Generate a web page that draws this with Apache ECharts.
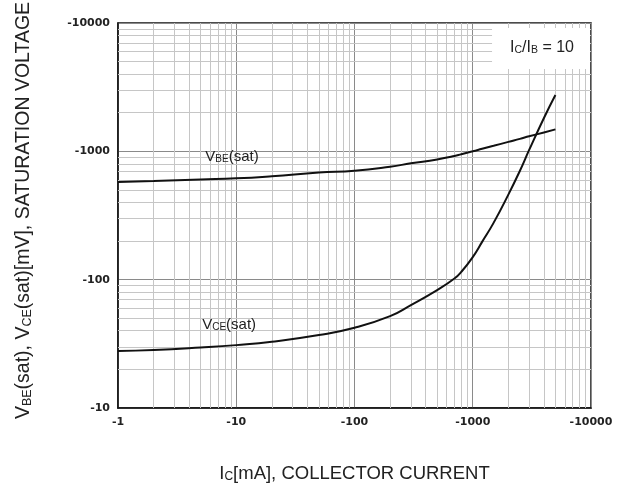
<!DOCTYPE html>
<html>
<head>
<meta charset="utf-8">
<script src="https://cdn.jsdelivr.net/npm/echarts@6/dist/echarts.min.js"></script>
<style>
html,body{margin:0;padding:0;background:#fff;}
#chart{width:625px;height:488px;}
</style>
</head>
<body>
<div id="chart"></div>
<script>
// Collector current (mA, magnitude)
const collectorCurrent = [1, 2, 5, 10, 20, 50, 100, 200, 300, 500, 700, 800, 1000, 1200, 1500, 2000, 2500, 3000, 4000, 5000];
// V_BE(sat) in mV (magnitude)
const vbeSat = [577, 588, 604, 616, 640, 684, 706, 759, 806, 865, 919, 949, 1000, 1046, 1104, 1185, 1250, 1309, 1404, 1483];
// V_CE(sat) in mV (magnitude)
const vceSat = [27.8, 28.3, 29.6, 30.9, 32.8, 37, 42.2, 52, 63.4, 83, 102, 115, 150, 197, 277, 460, 703, 1025, 1820, 2750];

const xTickLabels = ['-1', '-10', '-100', '-1000', '-10000'];
const yTickLabels = ['-1', '-10', '-100', '-1000', '-10000'];

// minor grid positions (2..9 per decade)
const minorMultipliers = [2, 3, 4, 5, 6, 7, 8, 9];
const xDecades = [1, 10, 100, 1000];
const yDecades = [10, 100, 1000];

const minorX = [];
xDecades.forEach(d => minorMultipliers.forEach(m => minorX.push(d * m)));
const minorY = [];
yDecades.forEach(d => minorMultipliers.forEach(m => minorY.push(d * m)));

const vbeLabelPos = [9.2, 936];
const vceLabelPos = [8.7, 46];

const chart = echarts.init(document.getElementById('chart'), null, {renderer: 'canvas'});

const sansFont = 'Liberation Sans, Arial, sans-serif';
const curveRich = {
  m: {fontFamily: sansFont, fontSize: 15, fontWeight: 'normal', color: '#222', lineHeight: 18, verticalAlign: 'bottom'},
  s: {fontFamily: sansFont, fontSize: 10, fontWeight: 'normal', color: '#222', lineHeight: 11, verticalAlign: 'bottom'}
};

function toPairs(xs, ys) { return xs.map((x, i) => [x, ys[i]]); }

const option = {
  animation: false,
  backgroundColor: '#fff',
  title: {
    text: '{m|I}{s|C}{m|/I}{s|B}{m| = 10}',
    right: 35,
    top: 24,
    backgroundColor: '#fff',
    padding: [12, 16, 13, 18],
    textStyle: {fontWeight: 'normal', rich: {
      m: {fontFamily: sansFont, fontSize: 16, fontWeight: 'normal', color: '#222', lineHeight: 20, verticalAlign: 'bottom'},
      s: {fontFamily: sansFont, fontSize: 10.5, fontWeight: 'normal', color: '#222', lineHeight: 12, verticalAlign: 'bottom'}
    }}
  },
  grid: {
    left: 118, right: 34, top: 23, bottom: 80,
    containLabel: false,
    outerBoundsMode: 'none',
    show: true, borderColor: '#111', borderWidth: 1.5, backgroundColor: 'transparent'
  },
  xAxis: {
    type: 'log', logBase: 10, min: 1, max: 10000,
    axisLine: {show: true, lineStyle: {color: '#111', width: 1.5}},
    axisTick: {show: false},
    splitLine: {show: true, lineStyle: {color: '#8a8a8a', width: 1}},
    axisLabel: {
      margin: 9, color: '#222', fontFamily: 'DejaVu Sans', fontWeight: 'bold', fontSize: 11,
      formatter: v => xTickLabels[Math.round(Math.log10(v))]
    },
    name: '{m|I}{s|C}{m|[mA], COLLECTOR CURRENT}',
    nameLocation: 'middle',
    nameGap: 53,
    nameTextStyle: {rich: {
      m: {fontFamily: sansFont, fontSize: 18.5, color: '#222', lineHeight: 22, verticalAlign: 'bottom'},
      s: {fontFamily: sansFont, fontSize: 12, color: '#222', lineHeight: 13, verticalAlign: 'bottom'}
    }}
  },
  yAxis: {
    type: 'log', logBase: 10, min: 10, max: 10000,
    axisLine: {show: true, lineStyle: {color: '#111', width: 1.5}},
    axisTick: {show: false},
    splitLine: {show: true, lineStyle: {color: '#8a8a8a', width: 1}},
    axisLabel: {
      margin: 8, color: '#222', fontFamily: 'DejaVu Sans', fontWeight: 'bold', fontSize: 11,
      formatter: v => yTickLabels[Math.round(Math.log10(v))]
    },
    name: '{m|V}{s|BE}{m|(sat), V}{s|CE}{m|(sat)[mV], SATURATION VOLTAGE}',
    nameLocation: 'middle',
    nameGap: 84,
    nameTextStyle: {padding: [0, 0, 0, 10], rich: {
      m: {fontFamily: sansFont, fontSize: 19.5, color: '#222', lineHeight: 23, verticalAlign: 'bottom'},
      s: {fontFamily: sansFont, fontSize: 12.5, color: '#222', lineHeight: 14, verticalAlign: 'bottom'}
    }}
  },
  series: [
    {
      name: 'grid-minor',
      type: 'line',
      z: 1,
      silent: true,
      data: [],
      markLine: {
        silent: true,
        symbol: ['none', 'none'],
        label: {show: false},
        emphasis: {disabled: true},
        lineStyle: {color: '#c6c6c6', width: 1, type: 'solid'},
        data: minorX.map(v => ({xAxis: v})).concat(minorY.map(v => ({yAxis: v})))
      }
    },
    {
      name: 'VBE(sat)',
      type: 'line',
      z: 5,
      smooth: 0.5,
      showSymbol: false,
      lineStyle: {color: '#111', width: 2},
      data: toPairs(collectorCurrent, vbeSat),
      markPoint: {
        symbol: 'circle', symbolSize: 1,
        itemStyle: {color: 'rgba(0,0,0,0)'},
        label: {show: true, position: 'inside', formatter: '{m|V}{s|BE}{m|(sat)}', rich: curveRich},
        data: [{coord: vbeLabelPos}]
      }
    },
    {
      name: 'VCE(sat)',
      type: 'line',
      z: 5,
      smooth: 0.5,
      showSymbol: false,
      lineStyle: {color: '#111', width: 2},
      data: toPairs(collectorCurrent, vceSat),
      markPoint: {
        symbol: 'circle', symbolSize: 1,
        itemStyle: {color: 'rgba(0,0,0,0)'},
        label: {show: true, position: 'inside', formatter: '{m|V}{s|CE}{m|(sat)}', rich: curveRich},
        data: [{coord: vceLabelPos}]
      }
    }
  ]
};
chart.setOption(option);
</script>
</body>
</html>
